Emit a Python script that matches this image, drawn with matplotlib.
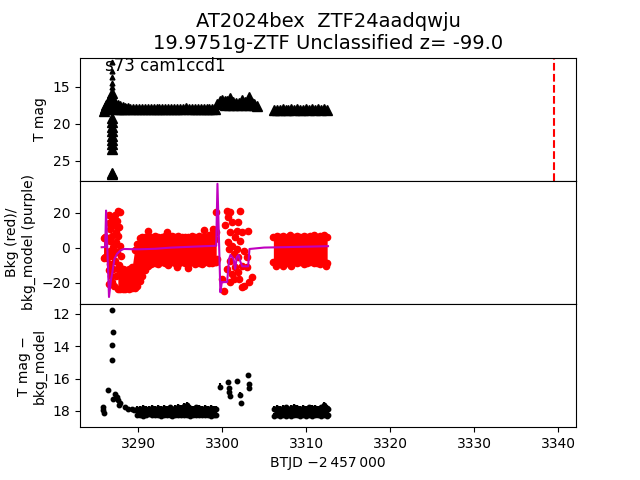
import matplotlib
matplotlib.use("Agg")
import matplotlib.pyplot as plt

# ---------------- data ----------------
title_lines = ["AT2024bex  ZTF24aadqwju", "19.9751g-ZTF Unclassified z= -99.0"]
sector_text = "s73 cam1ccd1"
ztf_time = 3339.45

# top panel: T mag (triangles)
top_seg1_t = [3285.95, 3286.1, 3286.25, 3286.4, 3286.5, 3286.15, 3286.4,
              3286.75, 3287.0, 3287.3, 3287.6, 3287.9, 3288.2, 3288.5, 3288.8, 3289.1,
              3287.4, 3287.7, 3288.0, 3288.3, 3288.6,
              3289.4, 3289.75, 3290.1, 3290.45, 3290.8, 3291.15, 3291.5, 3291.85, 3292.2,
              3292.55, 3292.9, 3293.25, 3293.6, 3293.95, 3294.3, 3294.65, 3295.0, 3295.35,
              3295.7, 3296.05, 3296.4, 3296.75, 3297.1, 3297.45, 3297.8, 3298.15, 3298.5,
              3298.85, 3299.1]
top_seg1_mag = [18.25, 17.85, 17.45, 17.05, 16.85, 18.05, 18.05,
                17.0, 17.15, 17.3, 17.45, 17.6, 17.75, 17.85, 17.95, 18.0,
                18.05, 18.07, 18.05, 18.06, 18.05,
                18.02, 18.05, 18.0, 18.04, 17.98, 18.05, 18.02, 18.0, 18.05,
                17.97, 18.03, 18.0, 18.05, 17.98, 18.02, 18.04, 17.98, 18.03,
                17.9, 17.96, 18.04, 18.0, 17.98, 18.03, 17.97, 18.02, 18.0,
                18.04, 18.03]
top_seg2_t = [3299.4, 3299.7, 3300.0, 3300.3, 3300.6, 3300.95, 3301.3, 3301.65, 3302.0,
              3302.35, 3302.7, 3303.0, 3303.25, 3303.55, 3303.85, 3304.1,
              3300.3, 3300.8, 3301.3, 3301.8, 3302.3, 3302.8, 3303.3, 3303.8]
top_seg2_mag = [17.3, 17.0, 16.85, 16.95, 16.95, 16.6, 17.05, 17.2, 17.2,
                16.85, 17.1, 17.25, 16.35, 17.2, 17.35, 17.6,
                17.55, 17.55, 17.55, 17.55, 17.55, 17.55, 17.55, 17.55]
top_seg3_t = [3306.15, 3306.5, 3306.85, 3307.2, 3307.55, 3307.9, 3308.25, 3308.6, 3308.95,
              3309.3, 3309.65, 3310.0, 3310.35, 3310.7, 3311.05, 3311.4, 3311.75, 3312.1,
              3312.45]
top_seg3_mag = [18.2, 18.1, 18.15, 18.05, 18.1, 18.15, 18.08, 18.12, 18.05,
                18.1, 18.15, 18.08, 18.1, 18.05, 18.12, 18.0, 18.1, 18.05, 18.2]
top_spike_t = [3286.95, 3286.95, 3286.95, 3286.95, 3286.95, 3286.95, 3286.95, 3286.95,
               3286.95, 3286.95, 3286.95, 3286.95, 3286.95, 3286.95]
top_spike_mag = [15.9, 16.4, 19.2, 19.8, 20.4, 21.0, 21.6, 22.2, 22.8, 23.4, 26.6, 26.85,
                 17.0, 17.6]
top_bright_t = [3286.95, 3286.95, 3286.95, 3286.95, 3286.95]
top_bright_mag = [11.7, 12.9, 13.7, 14.5, 15.1]

# middle panel: background (red) and background model (purple)
bkg_band_t = [[3285.9, 3286.1, 3286.3],
              [3287.6, 3287.9, 3288.2, 3288.5, 3288.9, 3289.3, 3289.6, 3289.9, 3290.2,
               3290.5, 3290.8, 3291.2, 3291.6, 3292.0, 3292.4, 3292.8, 3293.2, 3293.6,
               3294.0, 3294.4, 3294.8, 3295.2, 3295.6, 3296.0, 3296.4, 3296.8, 3297.2,
               3297.6, 3298.0, 3298.4, 3298.8, 3299.1, 3299.3],
              [3306.1, 3306.5, 3306.9, 3307.3, 3307.7, 3308.1, 3308.5, 3308.9, 3309.3,
               3309.7, 3310.1, 3310.5, 3310.9, 3311.3, 3311.7, 3312.1, 3312.5]]
bkg_band_hi = [[5.5, 6.0, 5.0],
               [-12.0, -12.5, -12.0, -12.5, -12.0, -11.0, -1.0, 2.0, 5.5,
                6.5, 6.0, 6.5, 6.0, 6.8, 6.2, 6.5, 7.0, 6.0,
                6.6, 6.2, 7.0, 6.3, 6.5, 6.0, 6.8, 6.2, 7.0,
                6.5, 6.0, 7.5, 8.0, 10.0, 9.0],
               [6.5, 7.0, 6.2, 6.8, 6.5, 7.2, 6.3, 6.8, 6.5,
                7.0, 6.2, 6.8, 7.2, 6.5, 6.9, 7.1, 6.0]]
bkg_band_lo = [[-5.5, -5.0, -6.0],
               [-23.4, -23.4, -23.4, -23.4, -23.4, -23.0, -23.0, -22.0, -19.0,
                -16.0, -12.5, -10.5, -9.0, -8.5, -9.2, -8.0, -8.6, -9.5,
                -8.2, -8.8, -9.0, -8.3, -8.7, -9.4, -8.1, -8.9, -8.5,
                -9.2, -8.0, -8.6, -8.5, -8.0, -8.0],
               [-8.0, -8.6, -8.2, -9.0, -8.4, -8.8, -8.1, -8.7, -8.3,
                -9.0, -8.5, -8.2, -8.8, -8.4, -8.9, -8.3, -8.6]]
bkg_pts_t = [3287.59, 3287.83, 3287.27, 3286.95, 3287.51, 3287.19, 3287.75, 3286.64,
             3287.35, 3286.95, 3287.67, 3286.68, 3287.35, 3287.83, 3287.07, 3286.68,
             3287.47, 3287.99, 3286.95, 3287.27, 3286.68, 3287.75, 3288.06, 3287.07,
             3286.79, 3287.35, 3286.87, 3287.19, 3288.46, 3286.5, 3286.45, 3286.55,
             3286.45, 3286.6, 3286.5,
             3299.29, 3298.9, 3299.18, 3299.37, 3300.56, 3300.96, 3302.15, 3300.76,
             3301.16, 3301.95, 3301.75, 3300.96, 3302.35, 3301.56, 3300.76, 3302.15,
             3301.16, 3301.75, 3302.55, 3301.36, 3301.95, 3300.96, 3302.35, 3301.56,
             3301.16, 3301.95, 3301.36, 3300.96, 3302.35, 3299.97, 3300.17, 3302.95,
             3303.14, 3303.54, 3303.26, 3302.55, 3300.37, 3300.56, 3302.07, 3300.88,
             3303.02,
             3297.8, 3291.2, 3293.5, 3296.0, 3294.6, 3306.4, 3307.2, 3308.2, 3312.4]
bkg_pts_v = [21.3, 20.4, 18.9, 17.0, 15.6, 12.8, 11.8, 10.9,
             9.3, 7.0, 6.7, 4.2, 3.2, 1.3, 0.4, -1.5,
             -2.5, -4.4, -4.8, -7.2, -9.1, -9.7, -12.0, -12.0,
             -15.8, -15.8, -19.6, -21.9, -12.4, 14.0, -3.0, -20.5,
             5.5, -12.5, 19.0,
             20.4, 10.9, 5.1, -6.3, 21.3, 20.4, 21.0, 17.5,
             14.7, 14.7, 9.9, 9.0, 9.0, 6.1, 3.2, 4.2,
             1.3, -0.6, -1.5, -3.4, -5.3, -7.2, -10.1, -11.0,
             -14.8, -13.9, -17.7, -19.6, -22.5, -17.7, -24.4, -5.3,
             9.9, -16.7, -19.6, -21.5, 12.8, -12.0, -17.7, -0.6,
             -11.0,
             10.5, 9.5, 9.0, -11.5, -11.0, -10.5, -10.3, -10.6, -10.5]
model_t = [3285.68, 3286.1, 3286.2, 3286.55, 3286.8, 3286.95, 3287.2, 3287.5, 3287.9,
           3288.3, 3290.0, 3292.0, 3294.0, 3296.0, 3298.0, 3299.3, 3299.45, 3299.8,
           3299.97, 3300.6, 3300.84, 3301.0, 3301.36, 3301.56, 3301.75, 3301.95, 3302.2,
           3302.4, 3303.1, 3303.26, 3305.0, 3307.0, 3309.0, 3311.0, 3312.6]
model_v = [0.4, 0.5, 21.3, -28.0, -17.7, -13.8, -6.3, -3.4, -1.5,
           -0.6, -0.8, -0.5, 0.2, 0.6, 1.0, 1.2, 36.6, -25.3,
           -19.5, -19.5, -6.2, -4.0, -6.2, -11.9, -5.2, -4.0, -8.2,
           -10.5, -10.5, -0.6, 0.2, 0.4, 0.6, 0.8, 1.0]

# bottom panel: T mag - bkg_model
diff_band_t = [[3289.9, 3290.25, 3290.6, 3290.95, 3291.3, 3291.65, 3292.0, 3292.35, 3292.7,
                3293.05, 3293.4, 3293.75, 3294.1, 3294.45, 3294.8, 3295.15, 3295.5, 3295.85,
                3296.2, 3296.55, 3296.9, 3297.25, 3297.6, 3297.95, 3298.3, 3298.65, 3299.0,
                3299.3],
               [3306.15, 3306.5, 3306.85, 3307.2, 3307.55, 3307.9, 3308.25, 3308.6, 3308.95,
                3309.3, 3309.65, 3310.0, 3310.35, 3310.7, 3311.05, 3311.4, 3311.75, 3312.1,
                3312.45, 3312.6]]
diff_band_hi = [[17.9, 17.85, 17.8, 17.9, 17.85, 17.8, 17.88, 17.82, 17.9,
                 17.8, 17.86, 17.78, 17.85, 17.8, 17.75, 17.82, 17.7, 17.6,
                 17.8, 17.85, 17.78, 17.82, 17.88, 17.8, 17.85, 17.8, 17.88,
                 17.9],
                [17.85, 17.8, 17.88, 17.82, 17.78, 17.85, 17.8, 17.75, 17.82,
                 17.88, 17.8, 17.85, 17.78, 17.82, 17.8, 17.85, 17.78, 17.6,
                 17.8, 17.85]]
diff_band_lo = [[18.25, 18.22, 18.28, 18.25, 18.2, 18.27, 18.24, 18.22, 18.28,
                 18.25, 18.22, 18.26, 18.3, 18.24, 18.27, 18.22, 18.26, 18.25,
                 18.28, 18.23, 18.25, 18.27, 18.22, 18.26, 18.25, 18.28, 18.24,
                 18.22],
                [18.28, 18.25, 18.3, 18.26, 18.28, 18.24, 18.3, 18.27, 18.25,
                 18.3, 18.26, 18.28, 18.24, 18.3, 18.27, 18.25, 18.29, 18.26,
                 18.28, 18.25]]
diff_pts_t = [3285.8, 3285.85, 3285.9, 3286.47, 3286.95, 3287.07, 3286.95, 3286.95,
              3287.07, 3287.3, 3287.47, 3287.6, 3287.86, 3287.7, 3288.85, 3289.25,
              3289.55, 3288.4,
              3299.77, 3300.68, 3300.84, 3300.84, 3300.9, 3301.75, 3302.15, 3302.2,
              3303.14, 3303.22, 3303.25]
diff_pts_mag = [17.75, 17.95, 18.15, 16.69, 11.75, 13.13, 13.91, 14.86,
                17.27, 16.95, 17.15, 17.35, 17.5, 17.6, 17.85, 17.9,
                17.95, 17.75,
                16.49, 16.22, 16.6, 16.85, 17.05, 16.15, 17.0, 17.5,
                15.77, 16.35, 16.6]
diff_pts_err = [0.15, 0.15, 0.15, 0.12, 0.03, 0.03, 0.03, 0.03,
                0.1, 0.12, 0.12, 0.12, 0.12, 0.1, 0.1, 0.1,
                0.1, 0.1,
                0.22, 0.1, 0.15, 0.15, 0.12, 0.1, 0.15, 0.12,
                0.1, 0.12, 0.12]
band_err = 0.18

x_ticks = [3290, 3300, 3310, 3320, 3330, 3340]

# ---------------- figure ----------------
fig, (ax1, ax2, ax3) = plt.subplots(3, 1, sharex=True, figsize=(6.4, 4.8), dpi=100)
fig.subplots_adjust(hspace=0)

# top
for tt, mm in [(top_seg1_t, top_seg1_mag), (top_seg2_t, top_seg2_mag),
               (top_seg3_t, top_seg3_mag), (top_spike_t, top_spike_mag)]:
    ax1.plot(tt, mm, "^", color="k", ms=7.5, ls="none")
ax1.plot(top_bright_t, top_bright_mag, "^", color="k", ms=3.5, ls="none")
ax1.axvline(ztf_time, color="r", ls="--", lw=1.5)
ax1.set_ylim(27.7, 11.1)
ax1.set_yticks([15, 20, 25])
ax1.set_ylabel("T mag")
ax1.text(0.05, 0.889, sector_text, transform=ax1.transAxes, fontsize=12,
         va="baseline", ha="left")
ax1.set_title("\n".join(title_lines), fontsize=14)

# middle
for tt, hi, lo in zip(bkg_band_t, bkg_band_hi, bkg_band_lo):
    ax2.fill_between(tt, lo, hi, color="r", lw=0)
    ax2.plot(tt, hi, "o", color="r", ms=4.5)
    ax2.plot(tt, lo, "o", color="r", ms=4.5)
ax2.plot(bkg_pts_t, bkg_pts_v, "o", color="r", ms=4.5, ls="none")
ax2.plot(model_t, model_v, "-", color="m", lw=1.5)
ax2.set_ylim(-32, 38.3)
ax2.set_yticks([-20, 0, 20])
ax2.set_ylabel("Bkg (red)/\nbkg_model (purple)")

# bottom
for tt, hi, lo in zip(diff_band_t, diff_band_hi, diff_band_lo):
    ax3.fill_between(tt, lo, hi, color="k", lw=0)
    ax3.errorbar(tt, hi, yerr=band_err, fmt="o", color="k", ms=3.2)
    ax3.errorbar(tt, lo, yerr=band_err, fmt="o", color="k", ms=3.2)
ax3.errorbar(diff_pts_t, diff_pts_mag, yerr=diff_pts_err, fmt="o", color="k", ms=3.2)
ax3.set_ylim(19.0, 11.4)
ax3.set_yticks([12, 14, 16, 18])
ax3.set_ylabel("T mag \u2212\nbkg_model")
ax3.set_xlim(3283.1, 3342.1)
ax3.set_xticks(x_ticks)
ax3.set_xlabel("BTJD \u22122\u2009457\u2009000")

fig.savefig("out.png", dpi=100)
